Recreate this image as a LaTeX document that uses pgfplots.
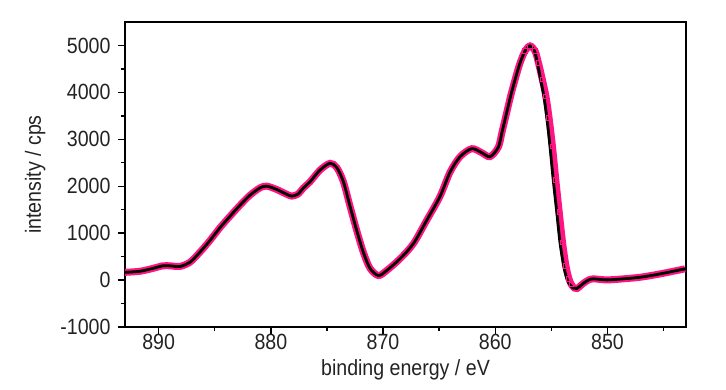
\documentclass[border=0pt]{standalone}
\usepackage{fontspec}
\setmainfont{Liberation Sans}[FakeStretch=0.89]
\usepackage{pgfplots}
\usepackage{pgfplotstable}
\pgfplotsset{compat=1.18}
\definecolor{mag}{RGB}{255,20,130}
\definecolor{txt}{RGB}{35,35,35}

\pgfplotstableread{
x y
893.0 165
891.66 188
890.5 250
889.59 305
888.8 300
888.10 290
887.21 380
886.32 595
885.42 846
884.53 1118
883.64 1360
882.75 1595
881.86 1809
880.97 1965
880.37 2002
879.48 1931
878.6 1830
878.14 1790
877.6 1830
877.11 1960
876.51 2094
875.62 2344
874.73 2488
874.13 2400
873.54 2100
872.95 1580
872.35 1060
871.76 595
871.16 250
870.42 96
869.68 203
868.49 454
867.30 775
866.11 1274
864.93 1780
864.03 2300
863.14 2629
862.10 2800
861.21 2715
860.47 2630
859.73 2830
859.40 3150
859.00 3550
858.60 3950
858.20 4300
857.80 4620
857.35 4880
856.90 4990
856.50 4880
856.25 4630
855.95 4270
855.66 3910
855.40 3450
855.12 2843
854.83 2130
854.52 1450
854.23 800
853.90 300
853.60 20
853.34 -100
853.04 -170
852.74 -180
852.40 -120
852.15 -70
851.70 0
851.26 26
850.07 4
848.59 26
847.10 60
845.61 118
844.13 188
843.09 240
}\fittable

\pgfplotstableread{
x y
893.0 165
891.66 188
890.5 250
889.59 305
888.8 300
888.10 290
887.21 380
886.32 595
885.42 846
884.53 1118
883.64 1360
882.75 1595
881.86 1809
880.97 1965
880.37 2002
879.48 1931
878.6 1830
878.14 1790
877.6 1830
877.11 1960
876.51 2094
875.62 2344
874.73 2488
874.13 2400
873.54 2100
872.95 1580
872.35 1060
871.76 595
871.16 250
870.42 96
869.68 203
868.49 454
867.30 775
866.11 1274
864.93 1780
864.03 2300
863.14 2629
862.10 2800
861.21 2715
860.47 2630
859.73 2830
859.40 3150
859.00 3550
858.60 3950
858.20 4300
857.80 4620
857.35 4880
856.90 4990
856.45 4880
856.15 4630
855.80 4270
855.48 3910
855.20 3450
854.90 2843
854.60 2130
854.30 1450
854.00 800
853.70 300
853.42 20
853.20 -100
852.95 -170
852.70 -180
852.40 -120
852.15 -70
851.70 0
851.26 26
850.07 4
848.59 26
847.10 60
845.61 118
844.13 188
843.09 240
}\datatable

\begin{document}
\fontsize{22bp}{26bp}\selectfont
\begin{tikzpicture}
\begin{axis}[
  scale only axis, width=561bp, height=305bp,
  at={(0,0)}, anchor=south west,
  x dir=reverse, xmin=843, xmax=893, ymin=-1000, ymax=5500,
  xtick={850,860,870,880,890}, minor xtick={845,855,865,875,885},
  ytick={-1000,0,1000,2000,3000,4000,5000},
  minor ytick={-500,500,1500,2500,3500,4500},
  tick align=outside, xtick pos=left, ytick pos=left,
  major tick length=7bp, minor tick length=4bp,
  axis line style={line width=1.6bp, black},
  every tick/.append style={line width=1.4bp, black},
  tick label style={font=\fontsize{22bp}{26bp}\selectfont, text=txt},
  xticklabel style={yshift=7bp},
  label style={font=\fontsize{22bp}{26bp}\selectfont, text=txt},
  xlabel style={yshift=5bp},
  /pgf/number format/assume math mode=true,
  /pgf/number format/1000 sep={},
  xlabel={binding energy / eV}, ylabel={intensity / cps},
]
\addplot[mag, line width=7bp, smooth] table {\datatable};
\addplot[mag, only marks, mark=square, mark size=2.2bp, mark options={line width=1bp},
  restrict x to domain=853:857.5] table {\datatable};
\addplot[black, line width=2.8bp, smooth] table {\fittable};
\end{axis}
\pgfresetboundingbox
\path (-125bp,-63bp) rectangle (601bp,327bp);
\end{tikzpicture}
\end{document}
